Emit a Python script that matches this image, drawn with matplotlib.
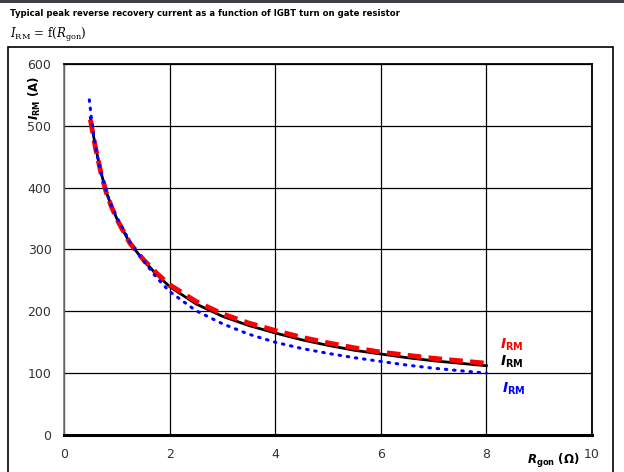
import matplotlib
matplotlib.use("Agg")
import matplotlib.pyplot as plt
from matplotlib.patches import Rectangle

# Data
r_black = [0.5, 0.55, 0.6, 0.7, 0.8, 0.9, 1.0, 1.25, 1.5, 1.75, 2.0, 2.5, 3.0, 3.5, 4.0, 4.5, 5.0, 5.5, 6.0, 6.5, 7.0, 7.5, 8.0]
i_black = [513, 488, 465, 425, 393, 370, 350, 310, 283, 260, 240, 212, 192, 177, 165, 154, 145, 137, 131, 125, 120, 116, 112]

r_red = [0.5, 0.55, 0.6, 0.7, 0.8, 0.9, 1.0, 1.25, 1.5, 1.75, 2.0, 2.5, 3.0, 3.5, 4.0, 4.5, 5.0, 5.5, 6.0, 6.5, 7.0, 7.5, 8.0]
i_red = [510, 486, 463, 424, 392, 369, 349, 310, 284, 262, 243, 216, 196, 181, 169, 158, 149, 141, 134, 129, 124, 120, 116]

r_blue = [0.48, 0.52, 0.56, 0.6, 0.7, 0.8, 0.9, 1.0, 1.25, 1.5, 1.75, 2.0, 2.5, 3.0, 3.5, 4.0, 4.5, 5.0, 5.5, 6.0, 6.5, 7.0, 7.5, 8.0]
i_blue = [542, 512, 486, 463, 425, 394, 370, 352, 312, 282, 255, 232, 201, 180, 163, 150, 140, 132, 125, 119, 113, 108, 104, 100]

x_ticks = [0, 2, 4, 6, 8, 10]
y_ticks = [0, 100, 200, 300, 400, 500, 600]

fig = plt.figure(figsize=(6.24, 4.72), dpi=100)

# top dark bar
fig.add_artist(Rectangle((0, 1 - 3/472), 1, 3/472, transform=fig.transFigure,
                         facecolor="#3c3f46", edgecolor="none"))
# outer frame
fig.add_artist(Rectangle((8/624, -0.05), (613-8)/624, 1 - 47/472 + 0.05,
                         transform=fig.transFigure, facecolor="none",
                         edgecolor="black", linewidth=1.2))

ax = fig.add_axes([64/624, 1 - 435/472, (592-64)/624, (435-64)/472])
ax.set_xlim(0, 10)
ax.set_ylim(0, 600)
ax.set_xticks(x_ticks)
ax.set_yticks(y_ticks)
ax.grid(True, color="black", linewidth=0.9)
ax.set_axisbelow(True)
ax.tick_params(length=0, labelsize=9, colors="#333333", pad=9)
for s in ["top", "right"]:
    ax.spines[s].set_linewidth(1.3)
    ax.spines[s].set_color("black")
ax.spines["left"].set_color("#777777")
ax.spines["left"].set_linewidth(1.2)
ax.spines["bottom"].set_linewidth(2.2)
ax.spines["bottom"].set_color("black")

ax.plot(r_black, i_black, color="black", linewidth=2.0, zorder=3)
ax.plot(r_red, i_red, color="red", linewidth=3.5, linestyle=(0, (2.8, 1.5)), zorder=4)
ax.plot(r_blue, i_blue, color="blue", linewidth=2.2, linestyle=(0, (0.5, 2.2)),
        dash_capstyle="round", zorder=5)

lab = r"$\mathbfit{I}_{\mathbf{RM}}$"
ax.text(8.26, 146, lab, color="red", fontsize=10, va="center", ha="left")
ax.text(8.26, 118, lab, color="black", fontsize=10, va="center", ha="left")
ax.text(8.3, 75, lab, color="blue", fontsize=10, va="center", ha="left")

fig.text(35/624, 1 - 98/472, r"$\mathbfit{I}_{\mathbf{RM}}$" + r" $\mathbf{(A)}$",
         rotation=90, ha="center", va="center", fontsize=8.5)
fig.text(553/624, 1 - 461/472, r"$\mathbfit{R}_{\mathbf{gon}}$" + r" $\mathbf{(\Omega)}$",
         ha="center", va="center", fontsize=8.5)

fig.text(10/624, 1 - 13/472,
         "Typical peak reverse recovery current as a function of IGBT turn on gate resistor",
         fontsize=6.1, fontweight="bold", ha="left", va="center")
fig.text(10/624, 1 - 35/472, r"$I$" + "$_{\\mathrm{RM}}$ = f($R$$_{\\mathrm{gon}}$)",
         fontsize=8.5, ha="left", va="center", family="DejaVu Serif",
         math_fontfamily="dejavuserif")

fig.savefig("out.png", dpi=100)
